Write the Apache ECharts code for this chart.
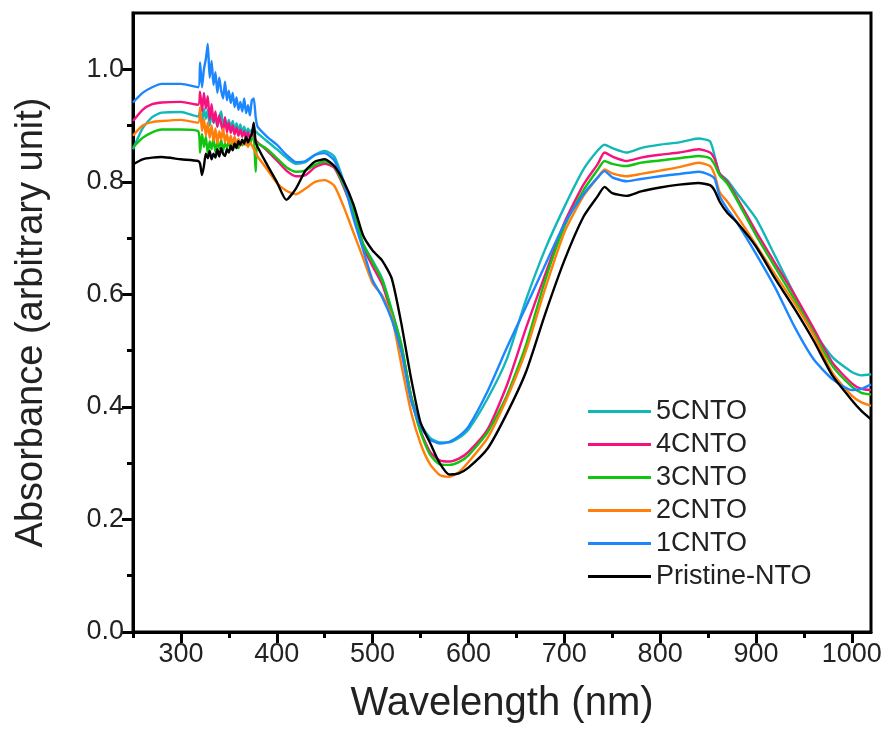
<!DOCTYPE html>
<html>
<head>
<meta charset="utf-8">
<title>Absorbance</title>
<script src="https://cdn.jsdelivr.net/npm/echarts@6/dist/echarts.min.js"></script>
<style>
  html, body { margin: 0; padding: 0; background: #fff; }
  #chart { width: 890px; height: 740px; }
</style>
</head>
<body>
<div id="chart"></div>
<script>
// wavelength (nm), shared by every curve; denser where the detector switch makes the traces noisy
var wavelength = [250, 260, 270, 280, 300, 318,
    320, 322, 324, 326, 328, 330, 332, 334, 336, 338, 340, 342, 344, 346, 348, 350, 352, 354, 356, 358,
    360, 362, 364, 366, 368, 370, 372, 374, 376, 378, 380,
    390, 400, 410, 420, 430, 440, 450, 460, 470, 480, 490,
    500, 510, 520, 530, 540, 550, 560, 570, 580, 590, 600, 620, 640, 660, 680, 700, 720, 735, 742, 750,
    765, 780, 800, 820, 840, 852, 857, 862, 870, 880, 900, 920, 940, 960, 980, 1000, 1010, 1020];

var cnto5 = [0.858, 0.895, 0.915, 0.923, 0.924, 0.916,
    0.925, 0.905, 0.930, 0.912, 0.928, 0.900, 0.922, 0.905, 0.918, 0.898, 0.915, 0.925, 0.900, 0.912, 0.896, 0.910, 0.895, 0.908, 0.892, 0.904,
    0.890, 0.902, 0.888, 0.898, 0.886, 0.895, 0.888, 0.892, 0.887, 0.890, 0.886,
    0.872, 0.858, 0.843, 0.832, 0.835, 0.848, 0.855, 0.845, 0.800, 0.750, 0.690,
    0.660, 0.628, 0.572, 0.510, 0.420, 0.370, 0.345, 0.337, 0.337, 0.345, 0.360, 0.415, 0.485, 0.590, 0.680, 0.755, 0.822, 0.856, 0.866, 0.860,
    0.852, 0.860, 0.866, 0.870, 0.877, 0.872, 0.845, 0.815, 0.803, 0.780, 0.735, 0.668, 0.600, 0.535, 0.488, 0.462, 0.456, 0.458];

var cnto4 = [0.908, 0.928, 0.938, 0.941, 0.942, 0.937,
    0.960, 0.925, 0.958, 0.930, 0.952, 0.910, 0.938, 0.905, 0.925, 0.898, 0.918, 0.902, 0.890, 0.915, 0.888, 0.905, 0.887, 0.900, 0.884, 0.896,
    0.882, 0.893, 0.880, 0.890, 0.876, 0.888, 0.878, 0.886, 0.880, 0.874, 0.870,
    0.855, 0.838, 0.820, 0.810, 0.812, 0.826, 0.832, 0.825, 0.790, 0.745, 0.685,
    0.650, 0.618, 0.565, 0.505, 0.420, 0.358, 0.320, 0.305, 0.303, 0.308, 0.320, 0.360, 0.438, 0.540, 0.635, 0.727, 0.795, 0.832, 0.852, 0.845,
    0.837, 0.843, 0.848, 0.852, 0.858, 0.852, 0.840, 0.815, 0.800, 0.772, 0.712, 0.655, 0.600, 0.540, 0.478, 0.442, 0.432, 0.430];

var cnto3 = [0.861, 0.878, 0.888, 0.893, 0.893, 0.890,
    0.852, 0.885, 0.862, 0.880, 0.850, 0.872, 0.858, 0.878, 0.853, 0.870, 0.860, 0.875, 0.856, 0.868, 0.860, 0.874, 0.858, 0.868, 0.862, 0.872,
    0.860, 0.870, 0.865, 0.873, 0.866, 0.874, 0.868, 0.876, 0.878, 0.818, 0.868,
    0.858, 0.842, 0.826, 0.818, 0.820, 0.830, 0.836, 0.828, 0.793, 0.748, 0.690,
    0.657, 0.625, 0.570, 0.510, 0.420, 0.355, 0.315, 0.298, 0.297, 0.302, 0.314, 0.355, 0.420, 0.510, 0.625, 0.720, 0.785, 0.822, 0.837, 0.832,
    0.828, 0.834, 0.838, 0.842, 0.846, 0.842, 0.830, 0.812, 0.797, 0.768, 0.705, 0.648, 0.592, 0.532, 0.472, 0.436, 0.425, 0.422];

var cnto2 = [0.882, 0.900, 0.906, 0.908, 0.910, 0.905,
    0.932, 0.890, 0.912, 0.882, 0.905, 0.878, 0.900, 0.872, 0.895, 0.868, 0.890, 0.875, 0.895, 0.870, 0.885, 0.868, 0.882, 0.865, 0.880, 0.868,
    0.876, 0.864, 0.875, 0.866, 0.872, 0.862, 0.870, 0.865, 0.858, 0.852, 0.845,
    0.822, 0.798, 0.784, 0.778, 0.788, 0.800, 0.803, 0.793, 0.755, 0.710, 0.665,
    0.620, 0.598, 0.560, 0.475, 0.392, 0.335, 0.298, 0.279, 0.276, 0.284, 0.302, 0.345, 0.415, 0.500, 0.610, 0.710, 0.775, 0.808, 0.822, 0.815,
    0.810, 0.814, 0.820, 0.826, 0.834, 0.828, 0.812, 0.782, 0.765, 0.740, 0.688, 0.635, 0.585, 0.528, 0.460, 0.420, 0.408, 0.402];

var cnto1 = [0.941, 0.958, 0.968, 0.974, 0.974, 0.968,
    1.012, 0.968, 1.000, 1.018, 1.045, 0.985, 1.015, 0.972, 0.995, 0.958, 0.985, 0.962, 0.948, 0.978, 0.945, 0.962, 0.940, 0.958, 0.933, 0.950,
    0.928, 0.942, 0.925, 0.948, 0.922, 0.936, 0.918, 0.945, 0.948, 0.915, 0.898,
    0.880, 0.866, 0.848, 0.835, 0.837, 0.848, 0.851, 0.838, 0.798, 0.735, 0.680,
    0.625, 0.595, 0.555, 0.498, 0.412, 0.365, 0.342, 0.335, 0.338, 0.348, 0.365, 0.428, 0.505, 0.578, 0.652, 0.725, 0.778, 0.808, 0.819, 0.808,
    0.801, 0.805, 0.810, 0.814, 0.818, 0.812, 0.805, 0.775, 0.752, 0.728, 0.672, 0.612, 0.543, 0.485, 0.449, 0.430, 0.432, 0.440];

var pristine = [0.831, 0.840, 0.843, 0.844, 0.840, 0.837,
    0.832, 0.812, 0.828, 0.850, 0.842, 0.855, 0.840, 0.850, 0.843, 0.858, 0.845, 0.860, 0.850, 0.846, 0.858, 0.852, 0.864, 0.856, 0.868, 0.860,
    0.872, 0.866, 0.875, 0.868, 0.880, 0.870, 0.878, 0.885, 0.905, 0.870, 0.862,
    0.830, 0.800, 0.768, 0.788, 0.820, 0.836, 0.840, 0.828, 0.800, 0.760, 0.705,
    0.678, 0.660, 0.628, 0.548, 0.452, 0.372, 0.336, 0.300, 0.280, 0.282, 0.292, 0.326, 0.388, 0.462, 0.565, 0.660, 0.738, 0.775, 0.791, 0.780,
    0.775, 0.783, 0.790, 0.795, 0.798, 0.794, 0.784, 0.765, 0.745, 0.728, 0.685, 0.628, 0.575, 0.518, 0.455, 0.412, 0.393, 0.378];

var seriesNames = ['5CNTO', '4CNTO', '3CNTO', '2CNTO', '1CNTO', 'Pristine-NTO'];
var seriesValues = [cnto5, cnto4, cnto3, cnto2, cnto1, pristine];
var seriesColors = ['#12B8B8', '#F5127E', '#10C410', '#FF7F0A', '#1C86FF', '#000000'];

var xMajorTicks = [300, 400, 500, 600, 700, 800, 900, 1000];
var xMinorTicks = [250, 350, 450, 550, 650, 750, 850, 950];
var yMajorTicks = [0, 0.2, 0.4, 0.6, 0.8, 1.0];
var yMinorTicks = [0.1, 0.3, 0.5, 0.7, 0.9];

var fontFamily = '"Liberation Sans", Arial, sans-serif';

function pairs(xs, ys) {
    var out = [];
    for (var i = 0; i < xs.length; i++) out.push([xs[i], ys[i]]);
    return out;
}

var series = [];
for (var i = 0; i < seriesNames.length; i++) {
    series.push({
        name: seriesNames[i],
        type: 'line',
        xAxisIndex: 0,
        yAxisIndex: 0,
        showSymbol: false,
        symbol: 'none',
        smooth: 0.2,
        color: seriesColors[i],
        lineStyle: { width: 2.4, color: seriesColors[i] },
        data: pairs(wavelength, seriesValues[i])
    });
}

var chart = echarts.init(document.getElementById('chart'), null, { renderer: 'canvas' });
chart.setOption({
    animation: false,
    backgroundColor: '#fff',
    textStyle: { fontFamily: fontFamily },
    grid: {
        left: 133, right: 19, top: 13, bottom: 108,
        show: true, borderColor: '#000', borderWidth: 3, backgroundColor: 'transparent'
    },
    legend: {
        orient: 'vertical',
        left: 583,
        top: 393,
        icon: 'rect',
        itemWidth: 63,
        itemHeight: 3,
        itemGap: 6,
        textStyle: { fontSize: 27, lineHeight: 27, color: '#222', fontFamily: fontFamily },
        data: seriesNames
    },
    xAxis: [{
        type: 'value',
        min: 250,
        max: 1020,
        name: 'Wavelength (nm)',
        nameLocation: 'middle',
        nameGap: 52,
        nameTextStyle: { fontSize: 40, color: '#222', fontFamily: fontFamily },
        axisLine: { show: true, lineStyle: { color: '#000', width: 3 } },
        axisTick: { show: true, inside: false, length: 11, customValues: xMajorTicks, lineStyle: { color: '#000', width: 3 } },
        axisLabel: {
            customValues: xMajorTicks, fontSize: 27, color: '#222', margin: 9, fontFamily: fontFamily,
            formatter: function (v) { return String(v); }
        },
        splitLine: { show: false }
    }, {
        type: 'value',
        min: 250,
        max: 1020,
        position: 'bottom',
        axisLine: { show: false },
        axisTick: { show: true, length: 6, customValues: xMinorTicks, lineStyle: { color: '#000', width: 3 } },
        axisLabel: { show: false },
        splitLine: { show: false }
    }],
    yAxis: [{
        type: 'value',
        min: 0,
        max: 1.1,
        name: 'Absorbance (arbitrary unit)',
        nameLocation: 'middle',
        nameRotate: 90,
        nameGap: 82,
        nameTextStyle: { fontSize: 38, color: '#222', fontFamily: fontFamily },
        axisLine: { show: true, lineStyle: { color: '#000', width: 3 } },
        axisTick: { show: true, length: 11, customValues: yMajorTicks, lineStyle: { color: '#000', width: 3 } },
        axisLabel: {
            customValues: yMajorTicks, fontSize: 27, color: '#222', margin: 9, fontFamily: fontFamily,
            formatter: function (v) { return v.toFixed(1); }
        },
        splitLine: { show: false }
    }, {
        type: 'value',
        min: 0,
        max: 1.1,
        position: 'left',
        axisLine: { show: false },
        axisTick: { show: true, length: 6, customValues: yMinorTicks, lineStyle: { color: '#000', width: 3 } },
        axisLabel: { show: false },
        splitLine: { show: false }
    }],
    series: series
});
</script>
</body>
</html>
